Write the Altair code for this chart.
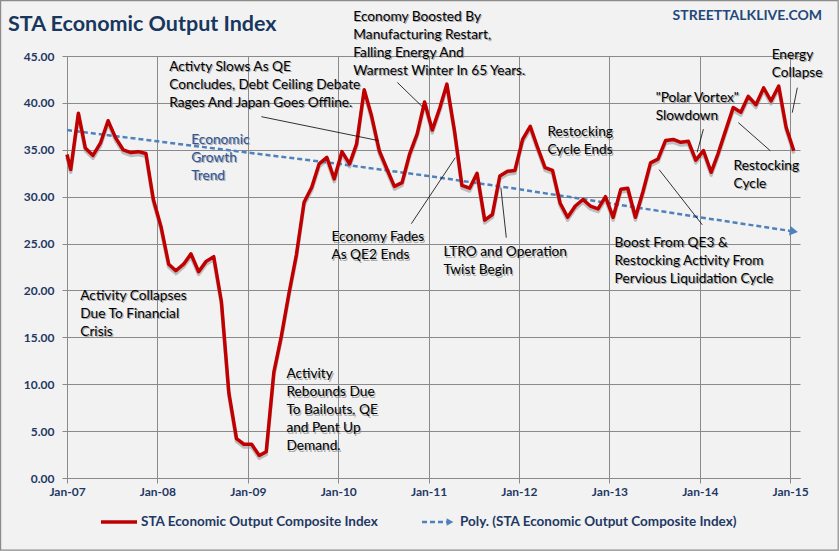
import altair as alt
import pandas as pd

# ---------------- data ----------------
index_values = [34.5, 32.9, 38.9, 35.2, 34.4, 35.7, 38.1, 36.3, 35.0, 34.7,
                34.8, 34.6, 29.7, 26.8, 22.8, 22.1, 22.8, 23.9, 22.0, 23.1,
                23.6, 18.8, 9.1, 4.2, 3.6, 3.6, 2.4, 2.8, 11.3, 15.1,
                19.7, 23.8, 29.4, 31.0, 33.5, 34.2, 31.9, 34.8, 33.5, 35.6,
                41.4, 38.6, 34.9, 33.0, 31.1, 31.5, 34.5, 36.7, 40.1, 37.1,
                39.5, 42.0, 37.0, 31.2, 30.9, 32.5, 27.5, 28.1, 32.2, 32.7,
                32.8, 36.1, 37.5, 35.3, 33.1, 32.8, 29.3, 27.8, 29.0, 29.7,
                29.0, 28.7, 30.0, 27.8, 30.8, 30.9, 27.8, 30.5, 33.6, 34.0,
                36.0, 36.1, 35.8, 35.9, 33.9, 34.9, 32.6, 34.6, 37.1, 39.5,
                39.0, 40.7, 39.8, 41.6, 40.2, 41.8, 37.4, 34.9]
monthly = pd.date_range("2007-01-01", periods=97, freq="MS") + pd.Timedelta(days=15)
index_dates = ["2007-01-01T00:00:00"] + [d.strftime("%Y-%m-%dT%H:%M:%S") for d in monthly]

trend_dates = ["2007-01-01", "2008-01-01", "2009-01-01", "2010-01-01", "2011-01-01",
               "2012-01-01", "2013-01-01", "2014-01-01", "2015-01-01", "2015-01-16"]
trend_values = [37.1, 35.9, 34.7, 33.5, 32.2, 30.8, 29.3, 27.8, 26.35, 26.3]

y_ticks = [0, 5, 10, 15, 20, 25, 30, 35, 40, 45]
x_tick_years = [2007, 2008, 2009, 2010, 2011, 2012, 2013, 2014, 2015]

ann_texts = [
    "Economy Boosted By\nManufacturing Restart,\nFalling Energy And\nWarmest Winter In 65 Years.",
    "Activty Slows As QE\nConcludes, Debt Ceiling Debate\nRages And Japan Goes Offline.",
    "Activity Collapses\nDue To Financial\nCrisis",
    "Activity\nRebounds Due\nTo Bailouts, QE\nand Pent Up\nDemand.",
    "Economy Fades\nAs QE2 Ends",
    "LTRO and Operation\nTwist Begin",
    "Restocking\nCycle Ends",
    "Boost From QE3 &\nRestocking Activity From\nPervious Liquidation Cycle",
    "\"Polar Vortex\"\nSlowdown",
    "Restocking\nCycle",
    "Energy\nCollapse",
]
ann_year = [2010.167, 2008.132, 2007.147, 2009.426, 2009.924, 2011.165,
            2012.316, 2013.057, 2013.511, 2014.374, 2014.795]
ann_value = [49.9, 44.6, 20.2, 11.8, 26.4, 24.8, 37.6, 25.8, 41.3, 34.0, 45.9]

trend_label = "Economic\nGrowth\nTrend"
trend_label_year = 2008.375
trend_label_value = 36.8

lead_y1 = [2009.149, 2010.654, 2010.809, 2011.80, 2013.55, 2014.04, 2014.426, 2015.08]
lead_v1 = [38.53, 42.18, 27.12, 30.96, 32.88, 37.2, 37.9, 41.62]
lead_y2 = [2010.444, 2010.93, 2011.296, 2011.86, 2014.028, 2013.97, 2014.78, 2015.024]
lead_v2 = [35.98, 39.6, 34.16, 25.63, 27.0, 34.73, 34.9, 38.96]

series_name = "STA Economic Output Composite Index"
trend_name = "Poly. (STA Economic Output Composite Index)"


def fy(f):
    year = int(f)
    start = pd.Timestamp(year=year, month=1, day=1)
    return (start + pd.Timedelta(days=(f - year) * 365.25)).strftime("%Y-%m-%dT%H:%M:%S")


# ---------------- frames ----------------
df = pd.DataFrame({"date": index_dates, "value": index_values})
tdf = pd.DataFrame({"date": [d + "T00:00:00" for d in trend_dates], "value": trend_values})
adf = pd.DataFrame({"date": [fy(v) for v in ann_year], "value": ann_value, "text": ann_texts})
gdf = pd.DataFrame({"date": [fy(trend_label_year)], "value": [trend_label_value], "text": [trend_label]})
ldf = pd.DataFrame({"d1": [fy(v) for v in lead_y1], "v1": lead_v1,
                    "d2": [fy(v) for v in lead_y2], "v2": lead_v2})

NAVY = "#1f3864"
FONT = "Lato"
ANN_SIZE = 13.7

xscale = alt.Scale(domain=[alt.DateTime(year=2007, month=1, date=1),
                           alt.DateTime(year=2015, month=2, date=10)])
yscale = alt.Scale(domain=[0, 45], nice=False)

xaxis = alt.Axis(values=[alt.DateTime(year=y, month=1, date=1) for y in x_tick_years],
                 format="%b-%y", title=None, grid=True, gridColor="#8a8a8a",
                 gridWidth=1, domainColor="#8a8a8a", tickColor="#8a8a8a", tickSize=5,
                 labelFont=FONT, labelFontSize=12, labelFontWeight="bold",
                 labelColor=NAVY, labelPadding=3, labelFlush=False)
yaxis = alt.Axis(values=y_ticks, format=".2f", title=None, grid=True,
                 gridColor="#8a8a8a", gridWidth=1, domainColor="#8a8a8a",
                 tickColor="#8a8a8a", tickSize=5, labelFont=FONT, labelFontSize=12,
                 labelFontWeight="bold", labelColor=NAVY, labelPadding=8)

base = alt.Chart(df)

shadow = base.transform_calculate(sv="datum.value - 0.3").mark_line(
    color="#9a9a9a", strokeWidth=3.5, opacity=0.6, strokeJoin="round"
).encode(x=alt.X("date:T", scale=xscale, axis=xaxis), y=alt.Y("sv:Q", scale=yscale, axis=yaxis))

line = base.mark_line(color="#c00000", strokeWidth=3.5, strokeJoin="round").encode(
    x=alt.X("date:T", scale=xscale), y=alt.Y("value:Q", scale=yscale))

trend = alt.Chart(tdf).mark_line(color="#4f81bd", strokeWidth=2.5, strokeDash=[5, 3]).encode(
    x=alt.X("date:T", scale=xscale), y=alt.Y("value:Q", scale=yscale))

arrow = alt.Chart(tdf.tail(1)).mark_point(shape="triangle-right", filled=True, size=90,
                                           color="#4f81bd", opacity=1, angle=9).encode(
    x=alt.X("date:T", scale=xscale), y=alt.Y("value:Q", scale=yscale))

leaders = alt.Chart(ldf).mark_rule(color="#000000", strokeWidth=0.8).encode(
    x=alt.X("d1:T", scale=xscale), x2="d2:T",
    y=alt.Y("v1:Q", scale=yscale), y2="v2:Q")

ann_shadow = alt.Chart(adf).mark_text(
    align="left", baseline="top", lineBreak="\n", lineHeight=18, font=FONT,
    fontSize=ANN_SIZE, color="#8a8a8a", opacity=0.7, dx=1.2, dy=1.2).encode(
    x=alt.X("date:T", scale=xscale), y=alt.Y("value:Q", scale=yscale), text="text:N")
ann = alt.Chart(adf).mark_text(
    align="left", baseline="top", lineBreak="\n", lineHeight=18, font=FONT,
    fontSize=ANN_SIZE, color="#000000").encode(
    x=alt.X("date:T", scale=xscale), y=alt.Y("value:Q", scale=yscale), text="text:N")

gtext_shadow = alt.Chart(gdf).mark_text(
    align="left", baseline="top", lineBreak="\n", lineHeight=18, font=FONT,
    fontSize=ANN_SIZE, color="#8a8a8a", opacity=0.7, dx=1.2, dy=1.2).encode(
    x=alt.X("date:T", scale=xscale), y=alt.Y("value:Q", scale=yscale), text="text:N")
gtext = alt.Chart(gdf).mark_text(
    align="left", baseline="top", lineBreak="\n", lineHeight=18, font=FONT,
    fontSize=ANN_SIZE, color="#2f5597").encode(
    x=alt.X("date:T", scale=xscale), y=alt.Y("value:Q", scale=yscale), text="text:N")

# title and watermark (outside plot)
title_df = pd.DataFrame({"t": ["STA Economic Output Index"]})
title = alt.Chart(title_df).mark_text(align="left", baseline="middle", font=FONT,
                                      fontSize=21.5, fontWeight="bold", color="#17375e").encode(
    x=alt.value(-59), y=alt.value(-31), text="t:N")
wm_df = pd.DataFrame({"t": ["STREETTALKLIVE.COM"]})
wm = alt.Chart(wm_df).mark_text(align="right", baseline="middle", font=FONT,
                                fontSize=14, fontWeight="bold", color="#1f497d").encode(
    x=alt.value(755), y=alt.value(-40), text="t:N")

# legend
leg_df = pd.DataFrame({"t": [series_name]})
leg_line = alt.Chart(leg_df).mark_rule(color="#c00000", strokeWidth=3.5).encode(
    x=alt.value(34), x2=alt.value(70), y=alt.value(466))
leg_text1 = alt.Chart(leg_df).mark_text(align="left", baseline="middle", font=FONT,
                                        fontSize=13.5, fontWeight="bold", color=NAVY).encode(
    x=alt.value(74), y=alt.value(466), text="t:N")
leg_df2 = pd.DataFrame({"t": [trend_name]})
leg_dash = alt.Chart(leg_df2).mark_rule(color="#4f81bd", strokeWidth=2.5, strokeDash=[5, 3]).encode(
    x=alt.value(355), x2=alt.value(380), y=alt.value(466))
leg_arrow = alt.Chart(leg_df2).mark_point(shape="triangle-right", filled=True, size=60,
                                          color="#4f81bd", opacity=1).encode(
    x=alt.value(383), y=alt.value(466))
leg_text2 = alt.Chart(leg_df2).mark_text(align="left", baseline="middle", font=FONT,
                                         fontSize=13.5, fontWeight="bold", color=NAVY).encode(
    x=alt.value(393), y=alt.value(466), text="t:N")

frame = alt.Chart(leg_df).mark_rect(filled=False, stroke="#8c8c8c", strokeWidth=1.2).encode(
    x=alt.value(-66.4), x2=alt.value(771.2), y=alt.value(-55.4), y2=alt.value(494.2))

chart = alt.layer(
    shadow, trend, arrow, line, leaders, ann_shadow, ann, gtext_shadow, gtext,
    title, wm, leg_line, leg_text1, leg_dash, leg_arrow, leg_text2, frame
).properties(
    width=733, height=422,
    padding={"left": 67, "top": 56, "right": 39, "bottom": 73},
    autosize="none", background="#f2f2f2"
).configure_view(stroke=None)

chart.save("out.html", embed_options={"renderer": "svg", "actions": False})
